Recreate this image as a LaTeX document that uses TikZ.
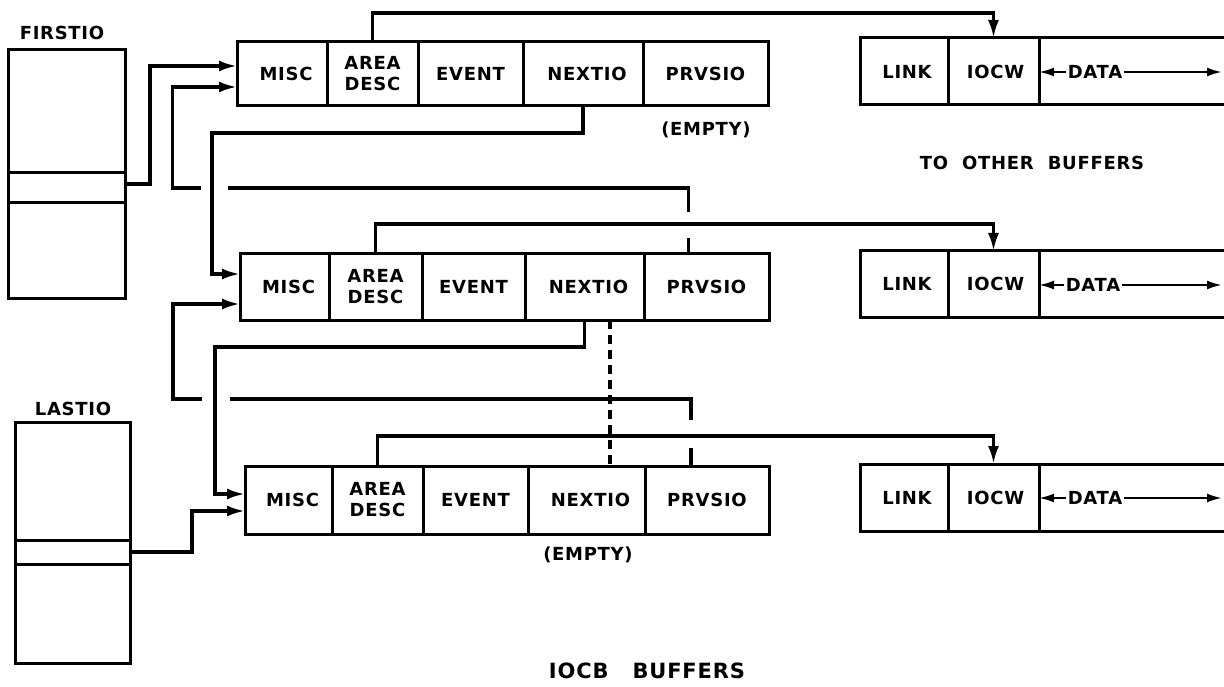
\documentclass[tikz,border=0pt]{standalone}
\usepackage{fontspec}
\setmainfont{DejaVu Sans}[LetterSpace=4]
\usetikzlibrary{arrows.meta,calc}
\begin{document}
\begin{tikzpicture}[x=1pt,y=-1pt,
  lbl/.style={font=\fontsize{18}{21}\selectfont\bfseries, align=center, inner sep=0pt},
  cell/.style={draw, line width=3pt, inner sep=0pt, outer sep=0pt, font=\fontsize{18}{21}\selectfont\bfseries, align=center},
  slot/.style={draw, line width=3pt, inner sep=0pt, outer sep=0pt},
  conn/.style={line width=3pt},
  arr/.style={line width=3.2pt, -{Latex[length=18pt,width=11pt]}},
  darr/.style={line width=2.2pt, -{Latex[length=15pt,width=9pt]}},
  dsh/.style={line width=3.2pt, dash pattern=on 9pt off 6pt}
]
\useasboundingbox (0,0) rectangle (1224,687);
\fill[white] (0,0) rectangle (1224,687);

% FIRSTIO
\node[lbl] (fl) at (62,33) {FIRSTIO};
\node[slot, minimum width=117, minimum height=123] (fTop) at (66.5,111.5) {};
\node[slot, minimum width=117, minimum height=30] (fSlot) at (66.5,188) {};
\node[slot, minimum width=117, minimum height=95] (fBot) at (66.5,250.5) {};

% LASTIO
\node[lbl] (ll) at (73,409) {LASTIO};
\node[slot, minimum width=115, minimum height=118] (lTop) at (72.5,481) {};
\node[slot, minimum width=115, minimum height=24] (lSlot) at (72.5,552) {};
\node[slot, minimum width=115, minimum height=99] (lBot) at (72.5,613.5) {};

% top IOCB row
\node[cell, minimum width=90, minimum height=64] (tMI) at (282,74) {\hspace{8pt}MISC};
\node[cell, minimum width=91, minimum height=64] (tAD) at (372.5,74) {AREA\\DESC};
\node[cell, minimum width=105, minimum height=64] (tEV) at (470.5,74) {EVENT};
\node[cell, minimum width=120, minimum height=64] (tNX) at (583,74) {\hspace{8pt}NEXTIO};
\node[cell, minimum width=125, minimum height=64] (tPR) at (705.5,74) {PRVSIO};

% middle IOCB row
\node[cell, minimum width=89, minimum height=66] (mMI) at (284.5,287) {\hspace{8pt}MISC};
\node[cell, minimum width=93, minimum height=66] (mAD) at (375.5,287) {AREA\\DESC};
\node[cell, minimum width=103, minimum height=66] (mEV) at (473.5,287) {EVENT};
\node[cell, minimum width=119, minimum height=66] (mNX) at (584.5,287) {\hspace{8pt}NEXTIO};
\node[cell, minimum width=125, minimum height=66] (mPR) at (706.5,287) {PRVSIO};

% bottom IOCB row
\node[cell, minimum width=87, minimum height=68] (bMI) at (288.5,500) {\hspace{8pt}MISC};
\node[cell, minimum width=91, minimum height=68] (bAD) at (377.5,500) {AREA\\DESC};
\node[cell, minimum width=105, minimum height=68] (bEV) at (475.5,500) {EVENT};
\node[cell, minimum width=117, minimum height=68] (bNX) at (586.5,500) {\hspace{8pt}NEXTIO};
\node[cell, minimum width=124, minimum height=68] (bPR) at (707,500) {PRVSIO};

% right buffers
\node[cell, minimum width=88, minimum height=67] (tLK) at (904,71.5) {\hspace{6pt}LINK};
\node[cell, minimum width=91, minimum height=67] (tIO) at (993.5,71.5) {\hspace{4pt}IOCW};
\node[cell, minimum width=88, minimum height=66] (mLK) at (904,284) {\hspace{6pt}LINK};
\node[cell, minimum width=91, minimum height=66] (mIO) at (993.5,284) {\hspace{4pt}IOCW};
\node[cell, minimum width=88, minimum height=67] (bLK) at (904,497.5) {\hspace{6pt}LINK};
\node[cell, minimum width=91, minimum height=67] (bIO) at (993.5,497.5) {\hspace{4pt}IOCW};

\draw[conn] (tIO.north east) -- ++(190,0);
\draw[conn] (tIO.south east) -- ++(190,0);
\draw[conn] (mIO.north east) -- ++(190,0);
\draw[conn] (mIO.south east) -- ++(190,0);
\draw[conn] (bIO.north east) -- ++(190,0);
\draw[conn] (bIO.south east) -- ++(190,0);

\node[lbl, inner xsep=2pt] (tDA) at (1095,72) {DATA};
\node[lbl, inner xsep=2pt] (mDA) at (1093,285) {DATA};
\node[lbl, inner xsep=2pt] (bDA) at (1095,498) {DATA};
\coordinate (tDE) at (1222,72);
\coordinate (mDE) at (1222,285);
\coordinate (bDE) at (1222,498);
\draw[darr] (tDA.west) -- (tIO.east |- tDA.west);
\draw[darr] (tDA.east) -- (tDE);
\draw[darr] (mDA.west) -- (mIO.east |- mDA.west);
\draw[darr] (mDA.east) -- (mDE);
\draw[darr] (bDA.west) -- (bIO.east |- bDA.west);
\draw[darr] (bDA.east) -- (bDE);

% labels
\node[lbl] (e1) at (706,130) {(EMPTY)};
\node[lbl] (e2) at (588,555) {(EMPTY)};
\node[lbl] (tob) at (1032,163) {TO\hspace{14pt}OTHER\hspace{14pt}BUFFERS};
\node[lbl, font=\fontsize{21}{23}\selectfont\bfseries] (iob) at (647,671) {IOCB\hspace{24pt}BUFFERS};

% AREA DESC -> IOCW
\draw[arr] (tAD.north) -- ++(0,-29) -| (tIO.north);
\draw[arr] (mAD.north) -- ++(0,-30) -| (mIO.north);
\draw[arr] (bAD.north) -- ++(0,-30) -| (bIO.north);

% FIRSTIO / LASTIO -> MISC
\draw[arr] ([yshift=4pt]fSlot.east) -- ++(25,0) |- ([yshift=8pt]tMI.west);
\draw[arr] (lSlot.east) -- ++(62,0) |- ([yshift=-11pt]bMI.west);

% NEXTIO -> next MISC
\draw[arr] (tNX.south) -- ++(0,27) -| ([xshift=-28pt,yshift=13pt]mMI.west) -- ([yshift=13pt]mMI.west);
\draw[arr] (mNX.south) -- ++(0,27) -| ([xshift=-30pt,yshift=6pt]bMI.west) -- ([yshift=6pt]bMI.west);

% PRVSIO -> previous MISC (with crossing gaps)
\draw[arr] ([xshift=-18pt]mPR.north) -- ++(0,-16) ++(0,-26) -- ++(0,-24) -- ++(-461,0) ++(-27,0) -- ++(-28,0) |- ([yshift=-13pt]tMI.west);
\draw[arr] ([xshift=-16pt]bPR.north) -- ++(0,-18) ++(0,-28) -- ++(0,-21) -- ++(-461,0) ++(-28,0) -- ++(-29,0) |- ([yshift=-17pt]mMI.west);

% dashed continuation
\draw[dsh] ([xshift=25.5pt]mNX.south) -- ([xshift=25.5pt]mNX.south |- bNX.north);
\end{tikzpicture}
\end{document}
